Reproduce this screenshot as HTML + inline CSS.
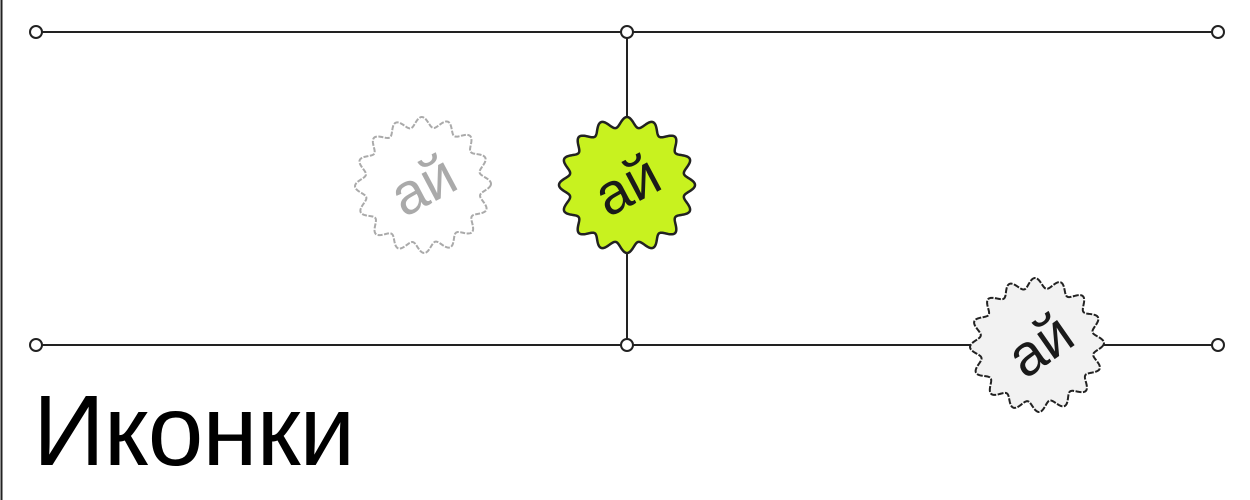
<!DOCTYPE html>
<html><head><meta charset="utf-8"><style>
html,body{margin:0;padding:0;background:#fff;width:1250px;height:500px;overflow:hidden}
svg{position:absolute;left:0;top:0}
</style></head><body>
<svg width="1250" height="500">
<line x1="1.5" y1="0" x2="1.5" y2="500" stroke="#222" stroke-width="2"/>
<g stroke="#222" stroke-width="2" fill="none">
<line x1="42" y1="32" x2="1212" y2="32"/>
<line x1="42" y1="345" x2="1212" y2="345"/>
<line x1="627" y1="38" x2="627" y2="339"/>
</g>
<g fill="#fff" stroke="#222" stroke-width="2">
<circle cx="36" cy="32" r="6"/><circle cx="627" cy="32" r="6"/><circle cx="1218" cy="32" r="6"/>
<circle cx="36" cy="345" r="6"/><circle cx="627" cy="345" r="6"/><circle cx="1218" cy="345" r="6"/>
</g>
<path id="b1" fill="#fff" stroke="#aaa" stroke-width="2" stroke-dasharray="5 1.5"/>
<path id="b2" fill="#c8f21f" stroke="#222" stroke-width="2.5"/>
<path id="b3" fill="#f2f2f2" stroke="#222" stroke-width="2" stroke-dasharray="6 1.5"/>
<text x="423" y="205" transform="rotate(-28 423 185)" text-anchor="middle" font-family="Liberation Sans, sans-serif" font-size="58" fill="#aaa">ай</text>
<text x="627" y="205" transform="rotate(-28 627 185)" text-anchor="middle" font-family="Liberation Sans, sans-serif" font-size="58" fill="#1a1a1a">ай</text>
<text x="1040" y="365" transform="rotate(-35 1040 345)" text-anchor="middle" font-family="Liberation Sans, sans-serif" font-size="58" fill="#1a1a1a">ай</text>
<text x="33" y="465" font-family="Liberation Sans, sans-serif" font-size="100" fill="#000" letter-spacing="-1">Иконки</text>
</svg>
<script>
function scallop(cx,cy,R,a,n,rot){
  let d='';
  for(let i=0;i<=720;i++){
    const t=i/720*Math.PI*2;
    const r=R+a*Math.cos(n*t+rot);
    const x=cx+r*Math.cos(t), y=cy+r*Math.sin(t);
    d+=(i?'L':'M')+x.toFixed(2)+' '+y.toFixed(2);
  }
  return d+'Z';
}
document.getElementById('b1').setAttribute('d',scallop(423,185,63,5,16,0.3));
document.getElementById('b2').setAttribute('d',scallop(627,185,63,5,16,0));
document.getElementById('b3').setAttribute('d',scallop(1037,345,62,5,16,0.5));
</script>
</body></html>
